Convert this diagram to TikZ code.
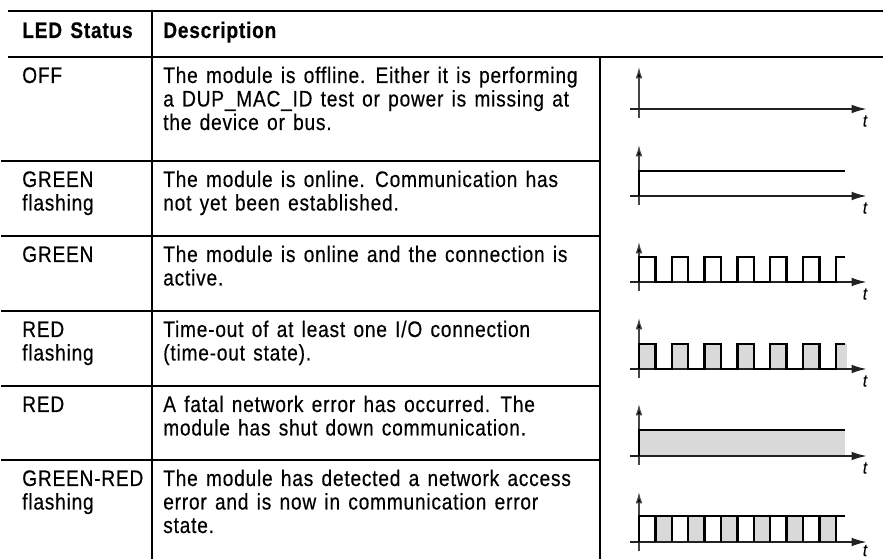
\documentclass[tikz,border=0pt]{standalone}
\usepackage{fontspec}
\setmainfont{Liberation Sans}[FakeStretch=0.85, LetterSpace=3.5, WordSpace=1.35, FakeBold=0.4]
\usetikzlibrary{arrows.meta}
\definecolor{fillgray}{HTML}{D9D9D9}
\definecolor{axisgray}{HTML}{222222}
\definecolor{vaxgray}{HTML}{444444}
\begin{document}
\begin{tikzpicture}[x=0.75pt,y=-0.75pt,
  txt/.style={anchor=base west, inner sep=0pt, font=\fontsize{16.875pt}{18pt}\selectfont},
  hdr/.style={anchor=base west, inner sep=0pt, font=\fontsize{16.875pt}{18pt}\selectfont\bfseries},
  tlabel/.style={inner sep=0pt, font=\fontsize{13pt}{14pt}\selectfont\itshape},
  rulebar/.style={line width=2pt},
  sepline/.style={line width=1.5pt},
  haxis/.style={line width=1.5pt, draw=axisgray, -{Latex[length=11.5pt,width=6.5pt]}},
  vaxis/.style={line width=0.9pt, draw=vaxgray, -{Latex[length=8.5pt,width=5pt]}, arrows={-{Latex[length=8.5pt,width=5pt,fill=black]}}},
  wave/.style={line width=1.7pt, line join=miter},
]
\useasboundingbox (0,0) rectangle (883,559);

% ---------- table rules ----------
\draw[rulebar] (8,11) -- (883,11);
\draw[rulebar] (8,57) -- (883,57);
\draw[sepline] (152,11) -- (152,559);
\draw[sepline] (600,57) -- (600,559);
\foreach \y in {161,236,311,386,460} \draw[sepline] (1,\y) -- (600,\y);

% ---------- header ----------
\node[hdr] (h1) at (22,38) {LED Status};
\node[hdr] (h2) at (163,38) {Description};

% ---------- rows ----------
\node[txt] (s1) at (22,83) {OFF};
\node[txt] (d1a) at (163,83) {The module is offline. Either it is performing};
\node[txt] (d1b) at (163,106.5) {a DUP\_MAC\_ID test or power is missing at};
\node[txt] (d1c) at (163,130) {the device or bus.};

\node[txt] (s2a) at (22,187) {GREEN};
\node[txt] (s2b) at (22,210.5) {flashing};
\node[txt] (d2a) at (163,187) {The module is online. Communication has};
\node[txt] (d2b) at (163,210.5) {not yet been established.};

\node[txt] (s3) at (22,262) {GREEN};
\node[txt] (d3a) at (163,262) {The module is online and the connection is};
\node[txt] (d3b) at (163,285.5) {active.};

\node[txt] (s4a) at (22,337) {RED};
\node[txt] (s4b) at (22,360.5) {flashing};
\node[txt] (d4a) at (163,337) {Time-out of at least one I/O connection};
\node[txt] (d4b) at (163,360.5) {(time-out state).};

\node[txt] (s5) at (22,412) {RED};
\node[txt] (d5a) at (163,412) {A fatal network error has occurred. The};
\node[txt] (d5b) at (163,435.5) {module has shut down communication.};

\node[txt] (s6a) at (22,486) {GREEN-RED};
\node[txt] (s6b) at (22,509.5) {flashing};
\node[txt] (d6a) at (163,486) {The module has detected a network access};
\node[txt] (d6b) at (163,509.5) {error and is now in communication error};
\node[txt] (d6c) at (163,533) {state.};

% ---------- fills ----------
\foreach \k in {0,2,...,10}
  \fill[fillgray] ({639+16.4*\k},344) rectangle ({639+16.4*(\k+1)},369);
\fill[fillgray] ({639+16.4*12},344) rectangle (847,369);
\fill[fillgray] (639,430) rectangle (845,456);
\foreach \k in {1,3,...,11}
  \fill[fillgray] ({639+16.4*\k},516) rectangle ({639+16.4*(\k+1)},542);

% ---------- axes ----------
\foreach \ay/\ty/\nm/\dt in {109/67/a/12,196/145/b/12,282/242/c/12,369/318/d/12,456/404/e/12,542/492/f/8.5}{
  \draw[vaxis] (639,\ay+9) -- (639,\ty);
  \draw[haxis] (630,\ay) -- (867,\ay);
  \node[tlabel] (t\nm) at (865,\ay+\dt) {t};
}

% ---------- waves ----------
% constant level
\draw[wave] (639,196) -- (639,171) -- (845,171);
% square wave
\draw[wave] (639,282) -- (639,257)
  \foreach \k in {0,2,...,10}{
    -- ({639+16.4*(\k+1)},257) -- ({639+16.4*(\k+1)},282)
    -- ({639+16.4*(\k+2)},282) -- ({639+16.4*(\k+2)},257)}
  -- (845,257);
% filled square wave
\draw[wave] (639,369) -- (639,344)
  \foreach \k in {0,2,...,10}{
    -- ({639+16.4*(\k+1)},344) -- ({639+16.4*(\k+1)},369)
    -- ({639+16.4*(\k+2)},369) -- ({639+16.4*(\k+2)},344)}
  -- (845,344);
% filled constant
\draw[wave] (639,456) -- (639,430) -- (845,430);
% alternating cells
\draw[wave] (639,542) -- (639,516) -- (845,516);
\foreach \k in {1,...,12}
  \draw[wave] ({639+16.4*\k},516) -- ({639+16.4*\k},542);
\end{tikzpicture}
\end{document}
